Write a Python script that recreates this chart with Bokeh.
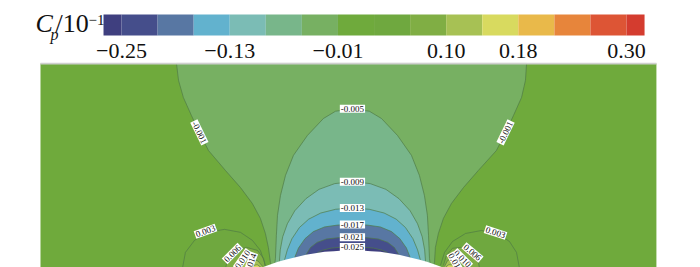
from bokeh.plotting import figure
from bokeh.layouts import column
from bokeh.models import Range1d
from bokeh.core.properties import value
from bokeh.embed import file_html
from bokeh.resources import INLINE

# ---------------- data ----------------
# colour-bar levels (Cp / 10^-1) and the 16 legend colours
levels = [-0.25, -0.21, -0.17, -0.13, -0.09, -0.05, -0.01, 0.03, 0.06, 0.10,
          0.14, 0.18, 0.22, 0.26, 0.30]
colors = ["#3f3f7f", "#454e8b", "#5877a3", "#62b2ce", "#7bbcb5", "#78b68a",
          "#77b062", "#6faa3c", "#6fa83f", "#80ae44", "#a7c154", "#d8da5f",
          "#e9b94a", "#e7853b", "#dd5535", "#d43c2f"]
tick_levels = [-0.25, -0.13, -0.01, 0.10, 0.18, 0.30]

# computational domain shown (x/c, y/c)
domain_x = [-1.177, 2.134]
domain_y = [0.0, 1.102]

# bump surface (x/c, y/c)
bump_x = [0.0, 0.05, 0.1, 0.15, 0.2, 0.25, 0.3, 0.35, 0.4, 0.45, 0.5,
          0.55, 0.6, 0.65, 0.7, 0.75, 0.8, 0.85, 0.9, 0.95, 1.0]
bump_y = [0.0, 0.019, 0.036, 0.050, 0.062, 0.073, 0.082, 0.089, 0.093, 0.096, 0.097,
          0.096, 0.093, 0.089, 0.082, 0.073, 0.062, 0.050, 0.036, 0.019, 0.0]

# iso-lines of Cp (x/c, y/c)
cm001_x = [0.061, 0.059, 0.048, 0.032, 0.005, -0.038, -0.102, -0.183, -0.274, -0.323, -0.366,
           -0.409, -0.435, -0.446, 1.436, 1.430, 1.409, 1.366, 1.323, 1.274,
           1.177, 1.097, 1.032, 0.989, 0.962, 0.946, 0.941, 0.939]
cm001_y = [0.020, 0.032, 0.113, 0.188, 0.269, 0.349, 0.435, 0.527, 0.634, 0.731, 0.823,
           0.919, 1.011, 1.102, 1.102, 1.011, 0.919, 0.823, 0.731, 0.634,
           0.527, 0.435, 0.349, 0.269, 0.188, 0.113, 0.032, 0.020]
cm005_x = [0.083, 0.086, 0.091, 0.097, 0.113, 0.140, 0.183, 0.258, 0.344, 0.409, 0.5,
           0.591, 0.656, 0.742, 0.817, 0.860, 0.887, 0.903, 0.909, 0.914, 0.917]
cm005_y = [0.030, 0.054, 0.177, 0.285, 0.392, 0.500, 0.608, 0.715, 0.806, 0.845, 0.858,
           0.845, 0.806, 0.715, 0.608, 0.500, 0.392, 0.285, 0.177, 0.054, 0.030]
cm009_x = [0.107, 0.112, 0.125, 0.150, 0.190, 0.250, 0.320, 0.405, 0.5,
           0.595, 0.680, 0.750, 0.810, 0.850, 0.875, 0.888, 0.893]
cm009_y = [0.036, 0.10, 0.17, 0.24, 0.31, 0.375, 0.425, 0.456, 0.466,
           0.456, 0.425, 0.375, 0.31, 0.24, 0.17, 0.10, 0.036]
cm013_x = [0.135, 0.150, 0.175, 0.215, 0.265, 0.330, 0.410, 0.5,
           0.590, 0.670, 0.735, 0.785, 0.825, 0.850, 0.865]
cm013_y = [0.046, 0.10, 0.16, 0.22, 0.265, 0.298, 0.318, 0.325,
           0.318, 0.298, 0.265, 0.22, 0.16, 0.10, 0.046]
cm017_x = [0.19, 0.21, 0.245, 0.29, 0.35, 0.42, 0.5, 0.58, 0.65, 0.71, 0.755, 0.79, 0.81]
cm017_y = [0.06, 0.11, 0.16, 0.198, 0.223, 0.233, 0.236, 0.233, 0.223, 0.198, 0.16, 0.11, 0.06]
cm021_x = [0.25, 0.275, 0.31, 0.36, 0.43, 0.5, 0.57, 0.64, 0.69, 0.725, 0.75]
cm021_y = [0.073, 0.113, 0.14, 0.158, 0.166, 0.168, 0.166, 0.158, 0.14, 0.113, 0.073]
cm025_x = [0.31, 0.34, 0.385, 0.44, 0.5, 0.56, 0.615, 0.66, 0.69]
cm025_y = [0.083, 0.098, 0.109, 0.114, 0.115, 0.114, 0.109, 0.098, 0.083]

cp003L_x = [-0.414, -0.398, -0.349, -0.280, -0.188, -0.102, -0.038, 0.005, 0.027, 0.030]
cp003L_y = [0.0, 0.086, 0.151, 0.194, 0.210, 0.194, 0.151, 0.097, 0.032, 0.010]
cp006L_x = [-0.183, -0.167, -0.129, -0.070, -0.011, 0.022, 0.032]
cp006L_y = [0.0, 0.059, 0.097, 0.113, 0.097, 0.054, 0.015]
cp010L_x = [-0.100, -0.086, -0.048, -0.008, 0.018]
cp010L_y = [0.0, 0.036, 0.054, 0.040, 0.010]
cp014L_x = [-0.040, -0.032, -0.012, 0.008]
cp014L_y = [0.0, 0.016, 0.020, 0.006]
cp003R_x = [0.973, 0.995, 1.038, 1.108, 1.194, 1.280, 1.344, 1.382, 1.398]
cp003R_y = [0.016, 0.086, 0.145, 0.188, 0.204, 0.188, 0.145, 0.086, 0.0]
cp006R_x = [0.989, 1.005, 1.038, 1.081, 1.134, 1.172, 1.183]
cp006R_y = [0.016, 0.070, 0.108, 0.113, 0.097, 0.059, 0.0]
cp010R_x = [0.995, 1.011, 1.043, 1.075, 1.090]
cp010R_y = [0.011, 0.042, 0.056, 0.040, 0.0]
cp014R_x = [1.002, 1.018, 1.040, 1.052]
cp014R_y = [0.008, 0.020, 0.018, 0.0]

# (Cp level, xs, ys)
neg_contours = [(-0.001, cm001_x, cm001_y), (-0.005, cm005_x, cm005_y),
                (-0.009, cm009_x, cm009_y), (-0.013, cm013_x, cm013_y),
                (-0.017, cm017_x, cm017_y), (-0.021, cm021_x, cm021_y),
                (-0.025, cm025_x, cm025_y)]
pos_contours = [(0.003, cp003L_x, cp003L_y), (0.006, cp006L_x, cp006L_y),
                (0.010, cp010L_x, cp010L_y), (0.014, cp014L_x, cp014L_y),
                (0.003, cp003R_x, cp003R_y), (0.006, cp006R_x, cp006R_y),
                (0.010, cp010R_x, cp010R_y), (0.014, cp014R_x, cp014R_y)]

# in-line contour labels: text, x, y, angle (deg)
lab_text = ["-0.001", "-0.001", "-0.005", "-0.009", "-0.013", "-0.017", "-0.021", "-0.025",
            "0.003", "0.006", "0.010", "0.014", "0.003", "0.006", "0.010", "0.014"]
lab_x = [-0.323, 1.323, 0.5, 0.5, 0.5, 0.5, 0.5, 0.5,
         -0.290, -0.145, -0.091, -0.048, 1.269, 1.145, 1.091, 1.054]
lab_y = [0.731, 0.731, 0.858, 0.466, 0.325, 0.236, 0.168, 0.115,
         0.200, 0.080, 0.048, 0.028, 0.193, 0.086, 0.052, 0.030]
lab_ang = [-64, 64, 0, 0, 0, 0, 0, 0, 20, 45, 55, 70, -18, -40, -45, -60]

SERIF = value("Liberation Serif")
INK = "#111111"
W = 700

# ---------------- colour bar ----------------
cb = figure(width=W, height=62, output_backend="svg", toolbar_location=None,
            x_range=Range1d(-3.356, 16.051), y_range=Range1d(62, 0),
            min_border=0, outline_line_color=None)
cb.axis.visible = False
cb.grid.visible = False
n = len(levels)
q_left = [-0.5] + list(range(n))
q_right = list(range(n)) + [n - 0.5]
cb.quad(left=q_left, right=q_right, top=14, bottom=35, fill_color=colors, line_color=None)
tick_pos = [levels.index(v) for v in tick_levels]
tick_txt = [f"{v:.2f}".replace("-", "\u2212") for v in tick_levels]
cb.text(x=tick_pos, y=50.6, text=tick_txt, text_font=SERIF, text_font_size="22px",
        text_align="center", text_baseline="middle", text_color=INK)
# title C_p / 10^-1
for txt, tx, ty, size, style in [("C", -2.386, 23.2, "26px", "italic"),
                                 ("p", -1.970, 33.6, "16px", "italic"),
                                 ("/10", -1.831, 23.2, "26px", "normal"),
                                 ("\u22121", -0.916, 19.6, "15px", "normal")]:
    cb.text(x=[tx], y=[ty], text=[txt], text_font=SERIF, text_font_size=size,
            text_font_style=style, text_align="left", text_baseline="middle",
            text_color=INK)

# ---------------- contour map ----------------
p = figure(width=W, height=205, output_backend="svg", toolbar_location=None,
           x_range=Range1d(-1.392, 2.371), y_range=Range1d(0.005, 1.107),
           min_border=0, outline_line_color=None, background_fill_color="white")
p.axis.visible = False
p.grid.visible = False

p.quad(left=domain_x[0], right=domain_x[1], bottom=domain_y[0], top=domain_y[1],
       fill_color=colors[7], line_color=None)

LINE = "#4f7a45"
for lev, xs, ys in neg_contours:
    ci = levels.index(round(lev * 10, 2))
    p.patch(xs + [xs[-1], xs[0]], ys + [-0.3, -0.3], fill_color=colors[ci], line_color=None)
for lev, xs, ys in pos_contours:
    ci = levels.index(round(lev * 10, 2)) + 1
    p.patch(xs + [xs[-1], xs[0]], ys + [-0.3, -0.3], fill_color=colors[ci], line_color=None)
for lev, xs, ys in neg_contours + pos_contours:
    p.line(xs, ys, line_color=LINE, line_width=0.8, line_alpha=0.85)

p.patch(bump_x + [1.0, 0.0], bump_y + [-0.3, -0.3], fill_color="white", line_color=None)

p.text(x=lab_x, y=lab_y, text=lab_text, angle=lab_ang, angle_units="deg",
       text_font=SERIF, text_font_size="9px", text_align="center",
       text_baseline="middle", text_color=INK,
       background_fill_color="white", padding=1)

# thin light frame line along the top of the domain
p.line(x=domain_x, y=[domain_y[1], domain_y[1]], line_color="#cfcfcf", line_width=2)

layout = column(cb, p, spacing=0)
open("out.html", "w").write(file_html(layout, INLINE))
